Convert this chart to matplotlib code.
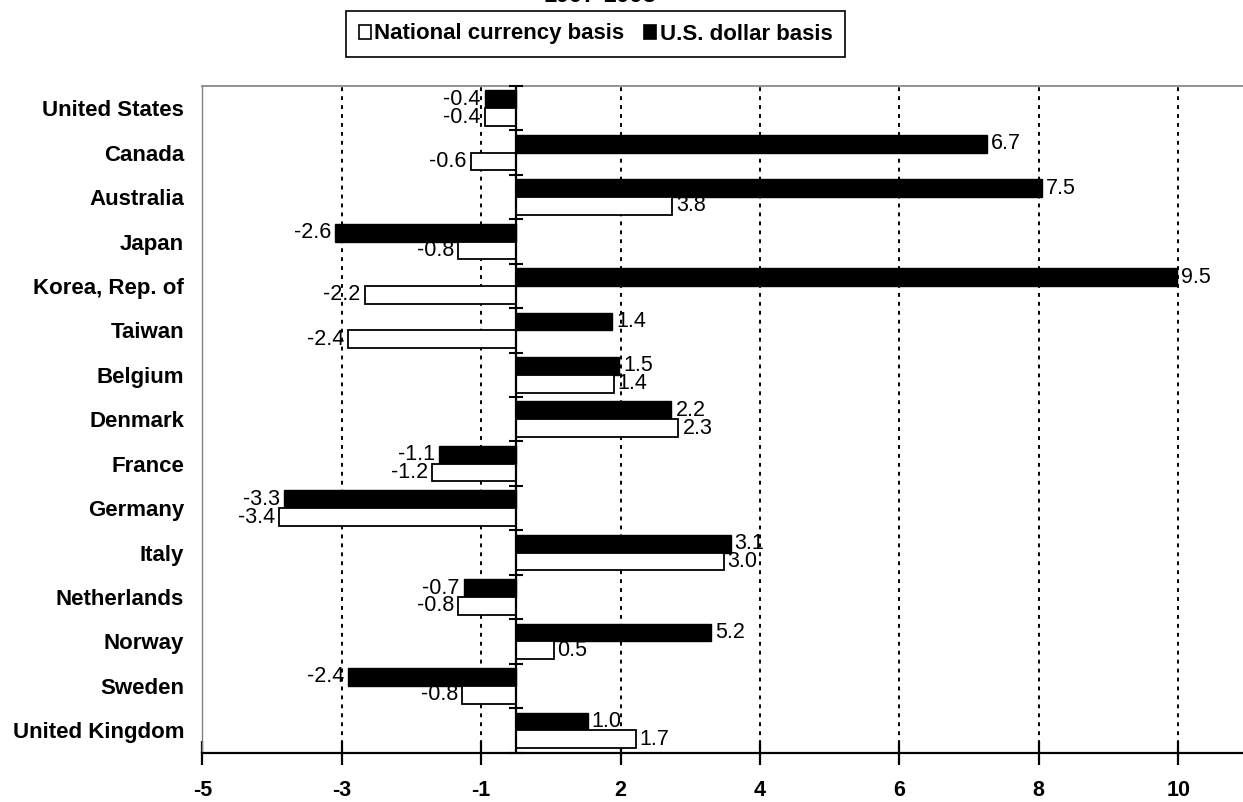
import numpy as np
import matplotlib
matplotlib.use("Agg")
import matplotlib.pyplot as plt
from matplotlib.patches import Patch
from matplotlib.ticker import FuncFormatter

plt.rcParams['font.family'] = ['Liberation Sans', 'DejaVu Sans']

# --- datos ---
paises = ["United States", "Canada", "Australia", "Japan", "Korea, Rep. of",
          "Taiwan", "Belgium", "Denmark", "France", "Germany", "Italy",
          "Netherlands", "Norway", "Sweden", "United Kingdom"]

# longitud de las barras tal como aparecen en la figura
usd = [-0.45, 6.76, 7.55, -2.59, 9.48, 1.38, 1.48, 2.23, -1.11, -3.33,
       3.08, -0.75, 2.80, -2.41, 1.03]
nacional = [-0.45, -0.65, 2.24, -0.83, -2.17, -2.41, 1.40, 2.33, -1.20, -3.40,
            2.98, -0.83, 0.54, -0.77, 1.72]

# etiquetas impresas junto a cada barra
usd_etiq = [-0.4, 6.7, 7.5, -2.6, 9.5, 1.4, 1.5, 2.2, -1.1, -3.3,
            3.1, -0.7, 5.2, -2.4, 1.0]
nac_etiq = [-0.4, -0.6, 3.8, -0.8, -2.2, -2.4, 1.4, 2.3, -1.2, -3.4,
            3.0, -0.8, 0.5, -0.8, 1.7]

ticks_x = np.arange(-4.5, 10, 2)

W, H = 1243, 802
fig = plt.figure(figsize=(W / 100, H / 100), dpi=100)
ax = fig.add_axes([202.3 / W, 1 - 752.5 / H, 1 - 202.3 / W, (752.5 - 86) / H])

y = np.arange(len(paises))
alto = 0.4

# rejilla punteada
for t in ticks_x:
    ax.axvline(t, color='black', lw=1.4, linestyle=(0, (2, 2.6)), zorder=1)

ax.barh(y - alto / 2, usd, height=alto, color='black', edgecolor='black',
        lw=1, zorder=3)
ax.barh(y + alto / 2, nacional, height=alto, color='white', edgecolor='black',
        lw=1.3, zorder=3)

# linea del cero con marcas entre categorias
ax.axvline(0, color='black', lw=1.6, zorder=4)
ax.plot(np.zeros(len(paises) + 1), np.arange(len(paises) + 1) - 0.5,
        ls='none', marker='_', ms=10, mew=1.5, color='black', zorder=4,
        clip_on=False)

# etiquetas de datos
def etiqueta(v, e, yy):
    off = 4 if v >= 0 else -4
    ax.annotate(f"{e:.1f}", (v, yy), xytext=(off, 0), textcoords='offset pixels',
                ha='left' if v >= 0 else 'right', va='center', fontsize=15.5,
                zorder=5)

for i in range(len(paises)):
    etiqueta(usd[i], usd_etiq[i], y[i] - alto / 2)
    etiqueta(nacional[i], nac_etiq[i], y[i] + alto / 2)

ax.set_ylim(len(paises) - 0.5, -0.5)
ax.set_xlim(-4.5, 10.43)

ax.set_yticks(y)
ax.set_yticklabels(paises, fontsize=16, fontweight='bold')
ax.tick_params(axis='y', length=0, pad=13)

ax.set_xticks(ticks_x)
ax.xaxis.set_major_formatter(FuncFormatter(
    lambda v, p: f"{int(np.sign(v) * np.floor(abs(v) + 0.5))}"))
ax.tick_params(axis='x', direction='inout', length=17, width=1.6,
               labelsize=15.5, pad=11)
for lab in ax.get_xticklabels():
    lab.set_fontweight('bold')

ax.spines['right'].set_visible(False)
ax.spines['top'].set_color('#808080')
ax.spines['top'].set_linewidth(1.2)
ax.spines['left'].set_color('#808080')
ax.spines['left'].set_linewidth(1.0)
ax.spines['bottom'].set_linewidth(1.6)

# titulo casi fuera del lienzo
fig.text(600 / W, 1 - 2.5 / H, "1997-1998", ha='center', va='baseline',
         fontsize=17, fontweight='bold')

# leyenda
handles = [Patch(facecolor='white', edgecolor='black', lw=1.2),
           Patch(facecolor='black', edgecolor='black', lw=1.2)]
leg = fig.legend(handles, ["National currency basis", "U.S. dollar basis"],
                 loc='center', bbox_to_anchor=(595.5 / W, 1 - 34 / H), ncol=2,
                 prop={'weight': 'bold', 'size': 16},
                 handlelength=0.55, handleheight=0.6, handletextpad=0.15,
                 columnspacing=0.9, borderpad=0.55, borderaxespad=0,
                 fancybox=False, framealpha=1, edgecolor='black')
leg.get_frame().set_linewidth(1.2)

fig.savefig("out.png", dpi=100)
